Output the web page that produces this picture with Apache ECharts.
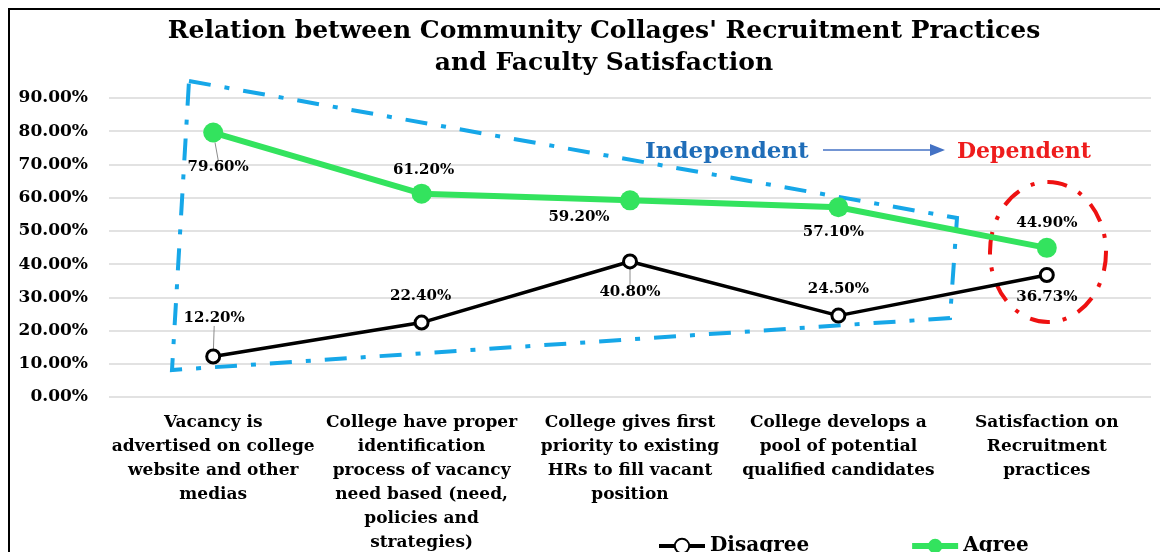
<!DOCTYPE html>
<html>
<head>
<meta charset="utf-8">
<script src="https://cdn.jsdelivr.net/npm/echarts@6/dist/echarts.min.js"></script>
<style>
  html, body {margin: 0; padding: 0; background: #fff;}
  #main {width: 1160px; height: 552px;}
</style>
</head>
<body>
<div id="main"></div>
<script>
  var categories = [
    'Vacancy is\nadvertised on college\nwebsite and other\nmedias',
    'College have proper\nidentification\nprocess of vacancy\nneed based (need,\npolicies and\nstrategies)',
    'College gives first\npriority to existing\nHRs to fill vacant\nposition',
    'College develops a\npool of potential\nqualified candidates',
    'Satisfaction on\nRecruitment\npractices'
  ];
  var disagree = [0.122, 0.224, 0.408, 0.245, 0.3673];
  var agree = [0.796, 0.612, 0.592, 0.571, 0.449];

  // label offsets (px) for each point
  var agreeOffsets = [[5, 35], [2, -24], [-51, 17], [-5, 25], [0, -25]];
  var disagreeOffsets = [[1, -38], [-1, -26], [0, 31], [0, -26], [0, 22]];
  var leaderAgree = [true, false, false, false, false];
  var leaderDisagree = [true, false, true, false, false];

  var serif = '"DejaVu Serif", "Liberation Serif", serif';
  var pct = function(v) { return (v * 100).toFixed(2) + '%'; };

  function build(values, leaders) {
    return values.map(function(v, i) {
      return {value: v, labelLine: {show: leaders[i], lineStyle: {color: '#8c8c8c', width: 1}}};
    });
  }

  var myChart = echarts.init(document.getElementById('main'));
  var option = {
    backgroundColor: '#fff',
    animation: false,
    title: {
      text: "Relation between Community Collages' Recruitment Practices\nand Faculty Satisfaction",
      left: 599, top: 10, textAlign: 'center',
      textStyle: {fontFamily: serif, fontWeight: 'bold', fontSize: 25, lineHeight: 32, color: '#000'}
    },
    legend: {
      bottom: -9, left: 652, itemGap: 100, itemWidth: 46, itemHeight: 18,
      textStyle: {fontFamily: serif, fontWeight: 'bold', fontSize: 20, color: '#000'},
      data: [
        {name: 'Disagree', lineStyle: {width: 4}},
        {name: 'Agree', lineStyle: {width: 6}}
      ]
    },
    grid: {left: 109, right: 9, top: 98, bottom: 155, outerBoundsMode: 'none'},
    xAxis: {
      type: 'category', data: categories,
      axisLine: {show: false}, axisTick: {show: false},
      axisLabel: {interval: 0, margin: 14, fontFamily: serif, fontWeight: 'bold', fontSize: 17, lineHeight: 24, color: '#000'}
    },
    yAxis: {
      type: 'value', min: 0, max: 0.9, interval: 0.1,
      axisLine: {show: false}, axisTick: {show: false},
      splitLine: {lineStyle: {color: '#d9d9d9', width: 1.5}},
      axisLabel: {margin: 21, formatter: pct, fontFamily: serif, fontWeight: 'bold', fontSize: 17, color: '#000'}
    },
    series: [
      {
        name: 'Disagree', type: 'line', data: build(disagree, leaderDisagree),
        symbol: 'circle', symbolSize: 13,
        lineStyle: {color: '#000', width: 3.5},
        itemStyle: {color: '#fff', borderColor: '#000', borderWidth: 3},
        label: {show: true, position: 'inside', formatter: function(p) { return pct(p.value); },
          fontFamily: serif, fontWeight: 'bold', fontSize: 15, color: '#000'},
        labelLayout: function(p) { var o = disagreeOffsets[p.dataIndex]; return {dx: o[0], dy: o[1]}; },
        z: 3
      },
      {
        name: 'Agree', type: 'line', data: build(agree, leaderAgree),
        symbol: 'circle', symbolSize: 20,
        lineStyle: {color: '#33e35e', width: 6},
        itemStyle: {color: '#33e35e'},
        label: {show: true, position: 'inside', formatter: function(p) { return pct(p.value); },
          fontFamily: serif, fontWeight: 'bold', fontSize: 15, color: '#000'},
        labelLayout: function(p) { var o = agreeOffsets[p.dataIndex]; return {dx: o[0], dy: o[1]}; },
        z: 3
      }
    ],
    graphic: [
      {type: 'rect', shape: {x: 9, y: 9, width: 1170, height: 570}, style: {fill: null, stroke: '#000', lineWidth: 2}, z: 10},
      {type: 'polygon', shape: {points: [[189, 81], [957, 218], [950, 318], [172, 370]]},
        style: {fill: null, stroke: '#16a7e8', lineWidth: 4, lineDash: [22, 14, 5, 14]}, z: 1},
      {type: 'ellipse', shape: {cx: 1048, cy: 252, rx: 58, ry: 70},
        style: {fill: null, stroke: '#ee1111', lineWidth: 4, lineDash: [20, 13, 4, 13]}, z: 1},
      {type: 'text', x: 645, y: 152, style: {text: 'Independent', fill: '#1f6db8', font: 'bold 23px ' + serif, textVerticalAlign: 'middle'}, z: 5},
      {type: 'line', shape: {x1: 823, y1: 150, x2: 932, y2: 150}, style: {stroke: '#4472c4', lineWidth: 1.5}, z: 5},
      {type: 'polygon', shape: {points: [[945, 150], [930, 144], [930, 156]]}, style: {fill: '#4472c4'}, z: 5},
      {type: 'text', x: 957, y: 152, style: {text: 'Dependent', fill: '#ee1c1c', font: 'bold 22px ' + serif, textVerticalAlign: 'middle'}, z: 5}
    ]
  };
  myChart.setOption(option);
</script>
</body>
</html>
